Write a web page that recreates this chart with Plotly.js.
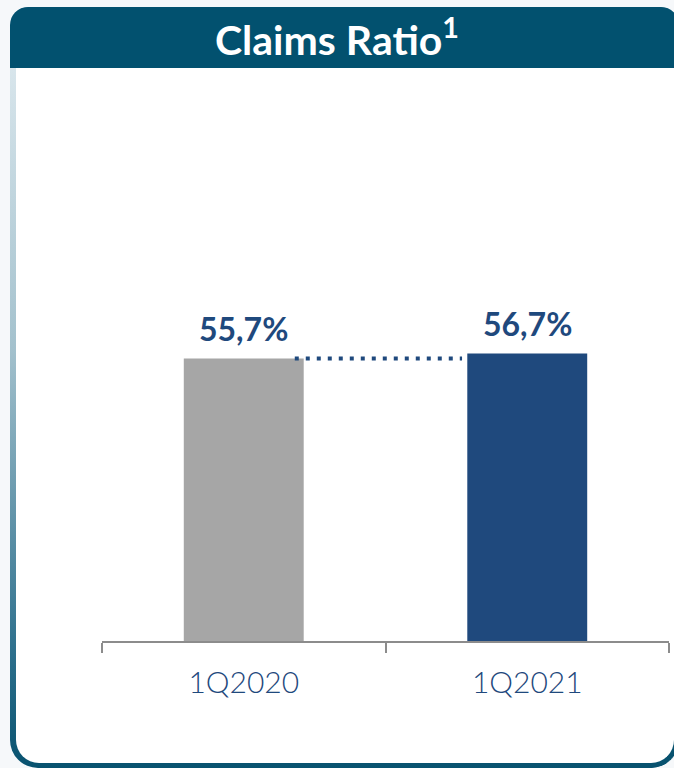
<!DOCTYPE html>
<html>
<head>
<meta charset="utf-8">
<script src="https://cdn.plot.ly/plotly-3.0.1.min.js"></script>
<style>
  html, body { margin:0; padding:0; width:674px; height:768px; overflow:hidden; background:#f6f8fa; }
  #page { position:relative; width:674px; height:768px; overflow:hidden; }
  #frame { position:absolute; left:10px; top:7px; width:669px; height:761px;
           border-radius:18px 18px 28px 28px; overflow:hidden;
           background:linear-gradient(to bottom, #e3edf2 0%, #a3c1cd 45%, #2c6f8c 85%, #08526f 100%); }
  #inner { position:absolute; left:6px; top:0; width:680px; bottom:5px; background:#ffffff;
           border-radius:16px 0 0 23px; }
  #corner { position:absolute; right:0; bottom:0; width:60px; height:60px;
            border-radius:0 0 28px 0; border-right:5px solid #08526f; border-bottom:5px solid #08526f;
            box-sizing:border-box; background:#ffffff; }
  #header { position:absolute; left:0; top:0; right:0; height:61px; background:#02516f;
            border-radius:16px 16px 0 0; }
  #cover { position:absolute; left:650px; top:68px; width:24px; height:660px; background:#ffffff; }
  #chart { position:absolute; left:0; top:0; width:674px; height:768px; }
</style>
</head>
<body>
<div id="page">
<div id="frame"><div id="inner"></div><div id="corner"></div><div id="header"></div></div>
<div id="cover"></div>
<div id="chart"></div>
</div>
<script>
const categories = ['1Q2020', '1Q2021'];
const values = [55.7, 56.7];
const valueLabels = ['55,7%', '56,7%'];
const barColors = ['#a6a6a6', '#1f497d'];
const titleText = 'Claims Ratio<sup>1</sup>';

const trace = {
  type: 'bar',
  x: categories,
  y: values,
  marker: { color: barColors },
  width: 0.423,
  hoverinfo: 'none'
};

const annotations = categories.map((c, i) => ({
  x: c, y: values[i], xref: 'x', yref: 'y',
  text: valueLabels[i], showarrow: false,
  yanchor: 'bottom', yshift: 9,
  font: { family: 'Lato, sans-serif', size: 32, color: '#1f497d', weight: 'bold' }
}));

const layout = {
  width: 674, height: 768,
  margin: { l: 102, r: 5, t: 134, b: 127 },
  paper_bgcolor: 'rgba(0,0,0,0)',
  plot_bgcolor: 'rgba(0,0,0,0)',
  showlegend: false,
  title: {
    text: titleText,
    font: { family: 'Lato, sans-serif', size: 41, color: '#ffffff', weight: 'bold' },
    x: 0.5, xanchor: 'center', y: 1 - 41/768, yanchor: 'middle', yref: 'container'
  },
  xaxis: {
    type: 'category',
    range: [-0.5, 1.5],
    showline: true, linecolor: '#8c8c8c', linewidth: 2,
    ticks: 'outside', tickson: 'boundaries', ticklen: 10, tickcolor: '#8c8c8c', tickwidth: 2,
    ticklabelstandoff: 14,
    tickfont: { family: 'Lato, sans-serif', size: 30, color: '#1f497d', weight: 300 },
    showgrid: false, zeroline: false, fixedrange: true
  },
  yaxis: {
    range: [0, 100], visible: false, showgrid: false, zeroline: false, fixedrange: true
  },
  shapes: [{
    type: 'line', xref: 'x', yref: 'y',
    x0: 0.18, x1: 0.77, y0: values[0], y1: values[0],
    line: { color: '#1f497d', width: 4, dash: '4px,7px' }
  }],
  annotations: annotations
};

Plotly.newPlot('chart', [trace], layout, { displayModeBar: false, staticPlot: true });
</script>
</body>
</html>
